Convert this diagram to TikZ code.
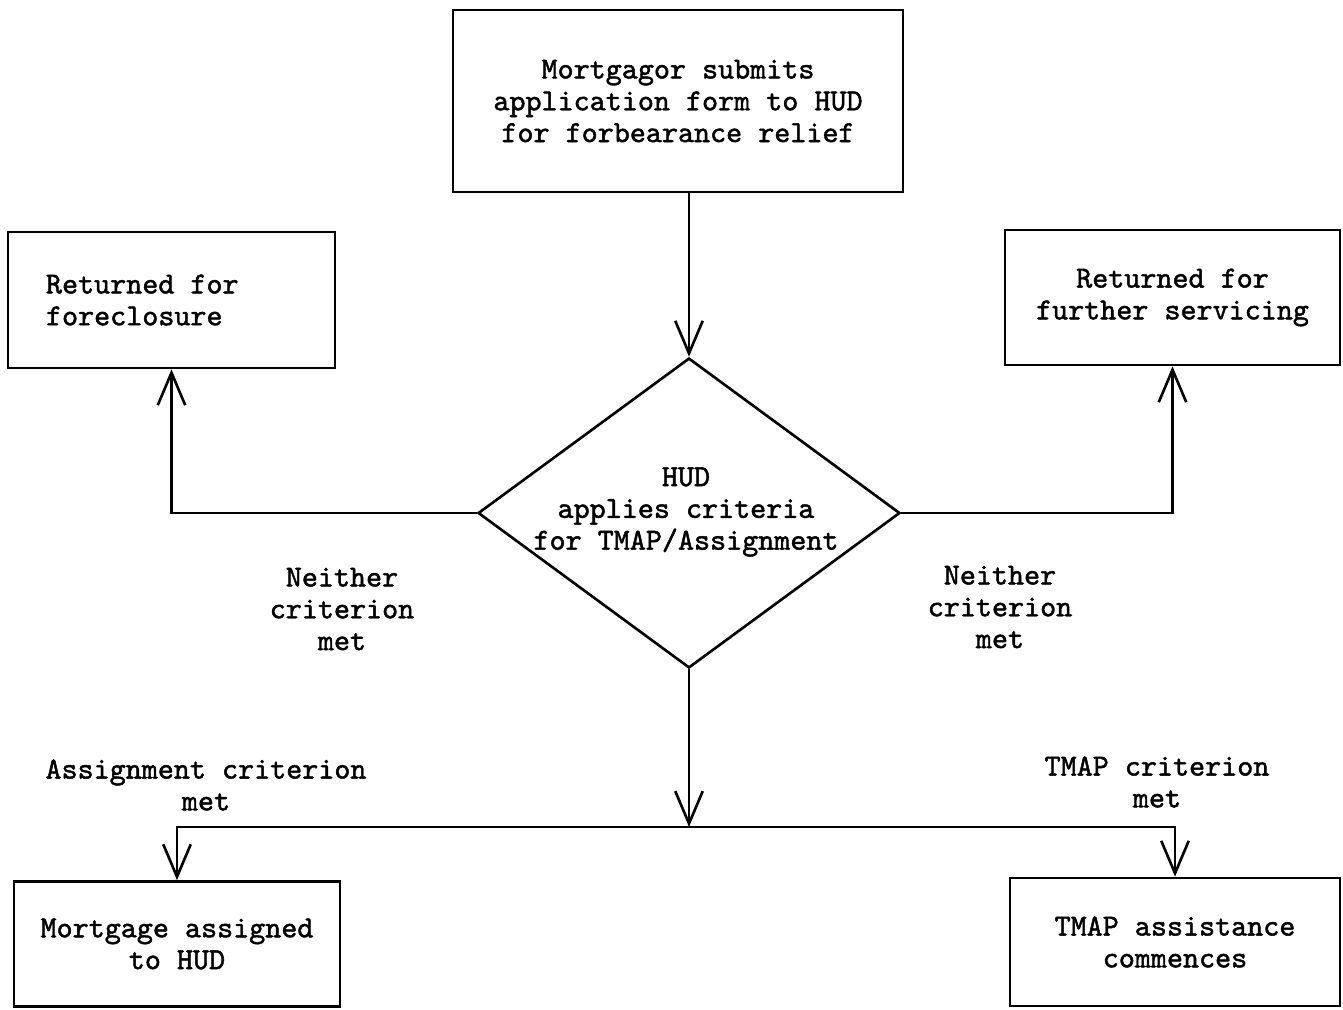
\documentclass[tikz,border=0pt]{standalone}
\usepackage{fontspec}
\newfontfamily\scanfont{lmmono10-regular.otf}[BoldFont=lmmono10-regular.otf, BoldFeatures={FakeBold=1.5}]
\usepackage{tikz}
\usetikzlibrary{arrows.meta,shapes.geometric}

\begin{document}
\begin{tikzpicture}[x=0.02cm, y=-0.02cm,
    txt/.style={font=\scanfont\bfseries\fontsize{17.4}{18.1}\selectfont, align=center},
    box/.style={txt, draw, line width=1.5pt, inner sep=0pt},
    flow/.style={line width=1.5pt, -{Straight Barb[length=6.5mm, width=5.5mm, line width=1.5pt]}}]
    \useasboundingbox (0, 0) rectangle (1343, 1009);
    \node[box, minimum width=9cm, minimum height=3.64cm] (submit) at (678, 101) {Mortgagor submits\\application form to HUD\\for forbearance relief};
    \node[box, align=flush left, text width=5.02cm, inner xsep=0.76cm, minimum height=2.72cm] (foreclose) at (171.5, 300) {Returned for\\foreclosure};
    \node[box, minimum width=6.7cm, minimum height=2.7cm] (servicing) at (1172.5, 297.5) {Returned for\\further servicing};
    \node[draw, diamond, line width=1.5pt, inner sep=0pt, minimum width=8.44cm, minimum height=6.2cm] (hud) at (689, 513) {};
    \node[txt] (hudtext) at (686, 512) {HUD\\applies criteria\\for TMAP/Assignment};
    \node[box, minimum width=6.52cm, minimum height=2.5cm] (assigned) at (177, 944) {Mortgage assigned\\to HUD};
    \node[box, minimum width=6.6cm, minimum height=2.56cm] (tmap) at (1175, 942) {TMAP assistance\\commences};
    \coordinate (split) at (689, 827);
    \node[txt] (neitherl) at (342, 609) {Neither\\criterion\\met};
    \node[txt] (neitherr) at (1000, 607) {Neither\\criterion\\met};
    \node[txt] (assignmet) at (206, 785) {Assignment criterion\\met};
    \node[txt] (tmapmet) at (1157, 782) {TMAP criterion\\met};
    \draw[flow] (submit.south -| hud.north) -- (hud.north);
    \draw[flow] (hud.west) -| (foreclose.south);
    \draw[flow] (hud.east) -| (servicing.south);
    \draw[flow] (hud.south) -- (split);
    \draw[flow] (split) -| (assigned.north);
    \draw[flow] (split) -| (tmap.north);
  \end{tikzpicture}
\end{document}
